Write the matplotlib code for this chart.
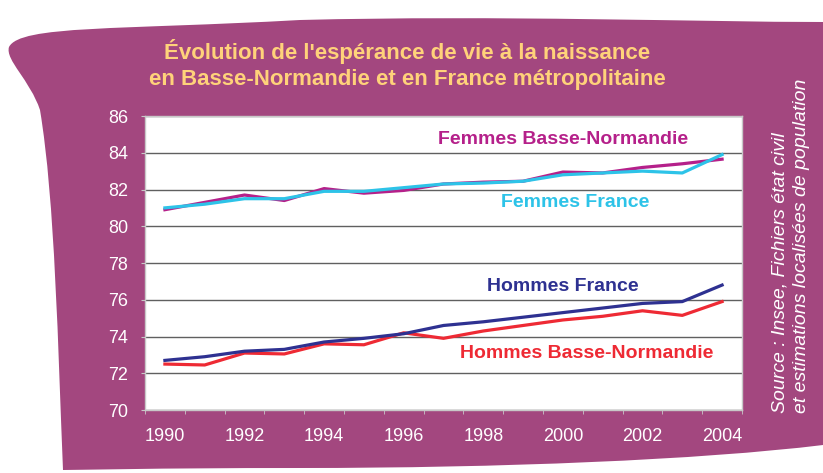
import matplotlib.pyplot as plt
from matplotlib.path import Path
from matplotlib.patches import PathPatch
from matplotlib.transforms import Affine2D

years = list(range(1990, 2005))
femmes_bn = [80.9, 81.3, 81.7, 81.4, 82.05, 81.8, 81.95, 82.3, 82.4, 82.45, 82.95, 82.9, 83.2, 83.4, 83.65]
femmes_fr = [81.0, 81.2, 81.5, 81.5, 81.9, 81.9, 82.1, 82.3, 82.35, 82.45, 82.8, 82.9, 83.0, 82.9, 83.9]
hommes_fr = [72.7, 72.9, 73.2, 73.3, 73.7, 73.9, 74.15, 74.6, 74.8, 75.05, 75.3, 75.55, 75.8, 75.9, 76.8]
hommes_bn = [72.5, 72.45, 73.1, 73.05, 73.6, 73.55, 74.2, 73.9, 74.3, 74.6, 74.9, 75.1, 75.4, 75.15, 75.9]

PURPLE = '#A3477F'
TITLE_COL = '#FFD27A'

plt.rcParams['font.family'] = 'Liberation Sans'

fig = plt.figure(figsize=(8.23, 4.73), dpi=100)
fig.patch.set_facecolor('white')

# purple banner shape, in pixel coords (y down)
px = Affine2D().scale(1 / 823, -1 / 473).translate(0, 1) + fig.transFigure
verts = [(9, 47), (20, 25), (120, 30), (300, 20),
         (500, 15), (700, 22), (823, 22),
         (823, 445),
         (700, 460), (500, 468), (300, 468),
         (150, 468), (80, 470), (63, 470),
         (58, 350), (55, 200), (40, 110),
         (30, 80), (5, 60), (9, 47)]
codes = [Path.MOVETO, Path.CURVE4, Path.CURVE4, Path.CURVE4,
         Path.CURVE4, Path.CURVE4, Path.CURVE4,
         Path.LINETO,
         Path.CURVE4, Path.CURVE4, Path.CURVE4,
         Path.CURVE4, Path.CURVE4, Path.CURVE4,
         Path.CURVE4, Path.CURVE4, Path.CURVE4,
         Path.CURVE4, Path.CURVE4, Path.CURVE4]
fig.patches.append(PathPatch(Path(verts, codes), transform=px, facecolor=PURPLE,
                             edgecolor='none', zorder=-5))

ax = fig.add_axes([145 / 823, 1 - 410 / 473, 597 / 823, 294 / 473])
ax.set_zorder(2)
ax.set_facecolor('white')

ax.plot(years, femmes_bn, color='#B5208A', lw=2.3, zorder=3)
ax.plot(years, femmes_fr, color='#2DC3E8', lw=2.3, zorder=4)
ax.plot(years, hommes_bn, color='#EE2A34', lw=2.3, zorder=3)
ax.plot(years, hommes_fr, color='#2E3191', lw=2.3, zorder=4)

ax.set_xlim(1989.5, 2004.5)
ax.set_ylim(70, 86)
ax.set_yticks(range(70, 87, 2))
ax.set_xticks(range(1990, 2005, 2))
ax.set_xticks([y + 0.5 for y in range(1989, 2005)], minor=True)
ax.tick_params(axis='x', which='major', length=0, pad=13, labelsize=13, labelcolor='white')
ax.tick_params(axis='x', which='minor', length=3, color='#C8C8C8', direction='out')
ax.tick_params(axis='y', length=3, color='#C8C8C8', pad=9, labelsize=13, labelcolor='white')
ax.grid(axis='y', color='#606060', lw=1)
for s in ax.spines.values():
    s.set_color('#C8C8C8')
    s.set_linewidth(1)

kw = dict(fontsize=14, fontweight='bold', ha='center', va='center')
ax.text(2000.0, 84.7, 'Femmes Basse-Normandie', color='#B5208A', **kw)
ax.text(2000.3, 81.3, 'Femmes France', color='#2DC3E8', **kw)
ax.text(2000.0, 76.7, 'Hommes France', color='#2E3191', **kw)
ax.text(2000.6, 73.05, 'Hommes Basse-Normandie', color='#EE2A34', **kw)

fig.text(407 / 823, 1 - 52 / 473, "Évolution de l'espérance de vie à la naissance",
         color=TITLE_COL, fontsize=16, fontweight='bold', ha='center', va='center')
fig.text(407 / 823, 1 - 80 / 473, "en Basse-Normandie et en France métropolitaine",
         color=TITLE_COL, fontsize=16, fontweight='bold', ha='center', va='center')

fig.text(780 / 823, 1 - 413 / 473, 'Source : Insee, Fichiers état civil', color='white',
         fontsize=14, style='italic', rotation=90, ha='center', va='bottom')
fig.text(801 / 823, 1 - 413 / 473, 'et estimations localisées de population', color='white',
         fontsize=14, style='italic', rotation=90, ha='center', va='bottom')

fig.savefig('out.png', dpi=100)
